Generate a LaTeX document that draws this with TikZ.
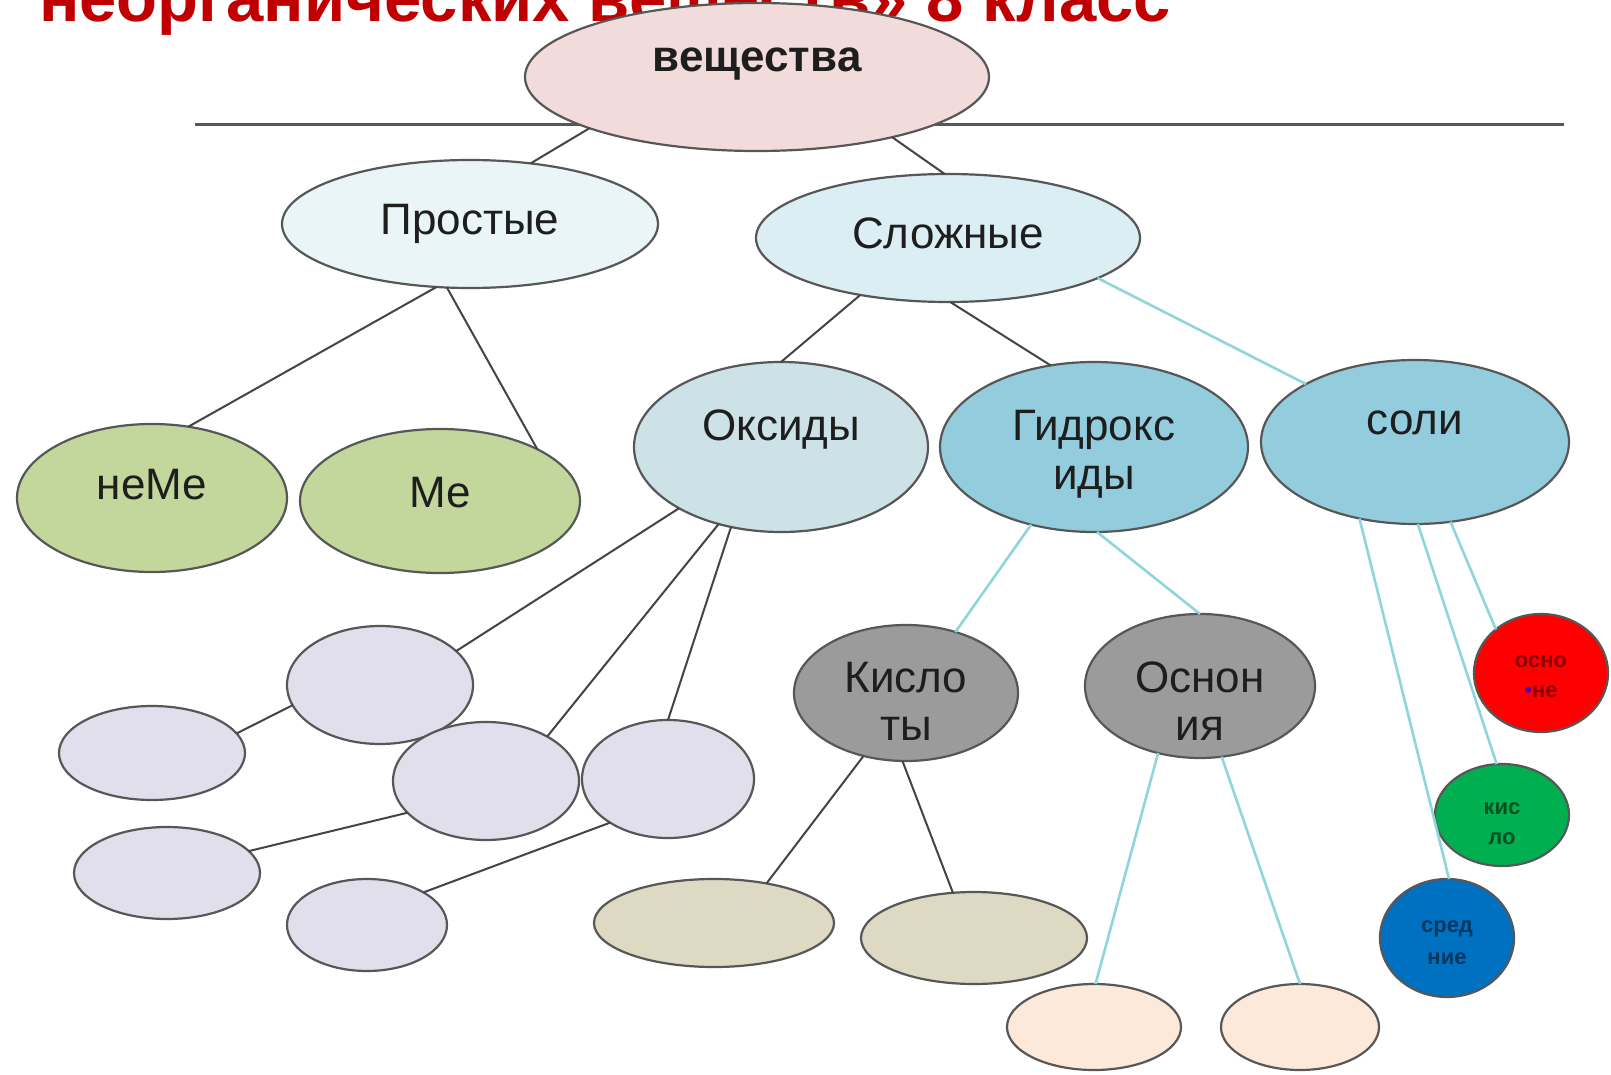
\documentclass[tikz,border=0pt]{standalone}
\usepackage{fontspec}
\setmainfont{Liberation Sans}
\usetikzlibrary{shapes.geometric}
\definecolor{bordc}{HTML}{575757}
\definecolor{linec}{HTML}{444444}
\definecolor{cyanl}{HTML}{8FD6DC}
\definecolor{titlec}{HTML}{C00000}
\definecolor{txtc}{HTML}{1E1E1E}
\definecolor{fves}{HTML}{F2DCDB}
\definecolor{fprost}{HTML}{EAF5F8}
\definecolor{fslozh}{HTML}{DAEEF3}
\definecolor{folive}{HTML}{C3D69B}
\definecolor{foks}{HTML}{CCE2E7}
\definecolor{fgidr}{HTML}{93CDDD}
\definecolor{fgray}{HTML}{9B9B9B}
\definecolor{flav}{HTML}{E1DFEC}
\definecolor{ftan}{HTML}{DDD9C3}
\definecolor{fpeach}{HTML}{FDE9D9}
\definecolor{fred}{HTML}{FF0000}
\definecolor{fgreen}{HTML}{00B050}
\definecolor{fblue}{HTML}{0070C0}
\begin{document}
\begin{tikzpicture}[x=1pt,y=-1pt,
  oval/.style n args={3}{ellipse, draw=bordc, line width=2.2pt, inner sep=0pt, outer sep=0pt,
    fill=#1, minimum width=#2pt, minimum height=#3pt},
  lbl/.style={anchor=base, inner sep=0pt, font=\fontsize{44}{50}\selectfont, text=txtc},
  small/.style={anchor=base, inner sep=0pt, font=\fontsize{22}{24}\selectfont\bfseries},
  dk/.style={draw=linec, line width=2pt},
  cy/.style={draw=cyanl, line width=2.6pt}]
\useasboundingbox (0,0) rectangle (1611,1075);
\clip (0,0) rectangle (1611,1075);
\fill[white] (0,0) rectangle (1611,1075);

% title (partly cut off)
\node[anchor=base west, inner sep=0pt, text=titlec,
  font=\fontsize{67}{74}\selectfont\bfseries] (title) at (39,22) {неорганических веществ» 8 класс};

% horizontal rule
\draw[draw=bordc, line width=3pt] (195,125) -- (1564,125);

% main nodes
\node[oval={fves}{464}{148}] (ves) at (757,77) {};
\node[lbl, font=\fontsize{44}{50}\selectfont\bfseries] at (757,72) {вещества};

\node[oval={fprost}{376}{128}] (prost) at (470,224) {};
\node[lbl] at (470,235) {Простые};
\node[oval={fslozh}{384}{128}] (slozh) at (948,238) {};
\node[lbl] at (948,249) {Сложные};

\node[oval={folive}{270}{148}] (neme) at (152,498) {};
\node[lbl] at (152,499) {неМе};
\node[oval={folive}{280}{144}] (me) at (440,501) {};
\node[lbl] at (440,507) {Ме};

\node[oval={foks}{294}{170}] (oks) at (781,447) {};
\node[lbl] at (781,440) {Оксиды};
\node[oval={fgidr}{308}{170}] (gidr) at (1094,447) {};
\node[lbl] at (1094,440) {Гидрокс};
\node[lbl] at (1094,489) {иды};
\node[oval={fgidr}{308}{164}] (soli) at (1415,442) {};
\node[lbl] at (1415,434) {соли};

\node[oval={fgray}{224}{136}] (kisl) at (906,693) {};
\node[lbl] at (906,692) {Кисло};
\node[lbl] at (906,740) {ты};
\node[oval={fgray}{230}{144}] (osn) at (1200,686) {};
\node[lbl] at (1200,692) {Оснон};
\node[lbl] at (1200,740) {ия};

\node[oval={fred}{134}{118}] (red) at (1541,673) {};
\node[small, text=red!55!black] at (1541,667) {осно};
\node[small, text=red!55!black] at (1541,697) {\textcolor{violet!70!blue}{\textbullet}не};
\node[oval={fgreen}{134}{102}] (grn) at (1502,815) {};
\node[small, text=fgreen!45!black] at (1502,814) {кис};
\node[small, text=fgreen!45!black] at (1502,844) {ло};
\node[oval={fblue}{134}{118}] (blu) at (1447,938) {};
\node[small, text=fblue!50!black] at (1447,932) {сред};
\node[small, text=fblue!50!black] at (1447,964) {ние};

% empty lavender ovals
\node[oval={flav}{186}{118}] (la) at (380,685) {};
\node[oval={flav}{186}{94}]  (lb) at (152,753) {};
\node[oval={flav}{186}{118}] (lc) at (486,781) {};
\node[oval={flav}{172}{118}] (ld) at (668,779) {};
\node[oval={flav}{186}{92}]  (le) at (167,873) {};
\node[oval={flav}{160}{92}]  (lf) at (367,925) {};
% tan ovals
\node[oval={ftan}{240}{88}] (ta) at (714,923) {};
\node[oval={ftan}{226}{92}] (tb) at (974,938) {};
% peach ovals
\node[oval={fpeach}{174}{86}] (pa) at (1094,1027) {};
\node[oval={fpeach}{158}{86}] (pb) at (1300,1027) {};

% connectors
\draw[dk] (ves.197) -- (prost.45);
\draw[dk] (ves.-24) -- (slozh.93);
\draw[dk] (prost.-118) -- (neme.63);
\draw[dk] (prost.-110) -- (me.28);
\draw[dk] (slozh.-147) -- (oks.90);
\draw[dk] (slozh.-88) -- (gidr.118);
\draw[cy] (slozh.-15) -- (soli.152);
\draw[dk] (oks.-149) -- (la.24);
\draw[dk] (oks.-129) -- (lc.36);
\draw[dk] (oks.-122) -- (ld.90);
\draw[dk] (la.-167) -- (lb.13);
\draw[dk] (lc.-158) -- (le.15);
\draw[dk] (ld.-143) -- (lf.30);
\draw[cy] (gidr.-129) -- (kisl.51);
\draw[cy] (gidr.-88) -- (osn.90);
\draw[dk] (kisl.-124) -- (ta.37);
\draw[dk] (kisl.-93) -- (tb.115);
\draw[cy] (osn.-122) -- (pa.88);
\draw[cy] (osn.-73) -- (pb.90);
\draw[cy] (soli.-66) -- (red.136);
\draw[cy] (soli.-88) -- (grn.96);
\draw[cy] (soli.-126) -- (blu.88);
\end{tikzpicture}
\end{document}
